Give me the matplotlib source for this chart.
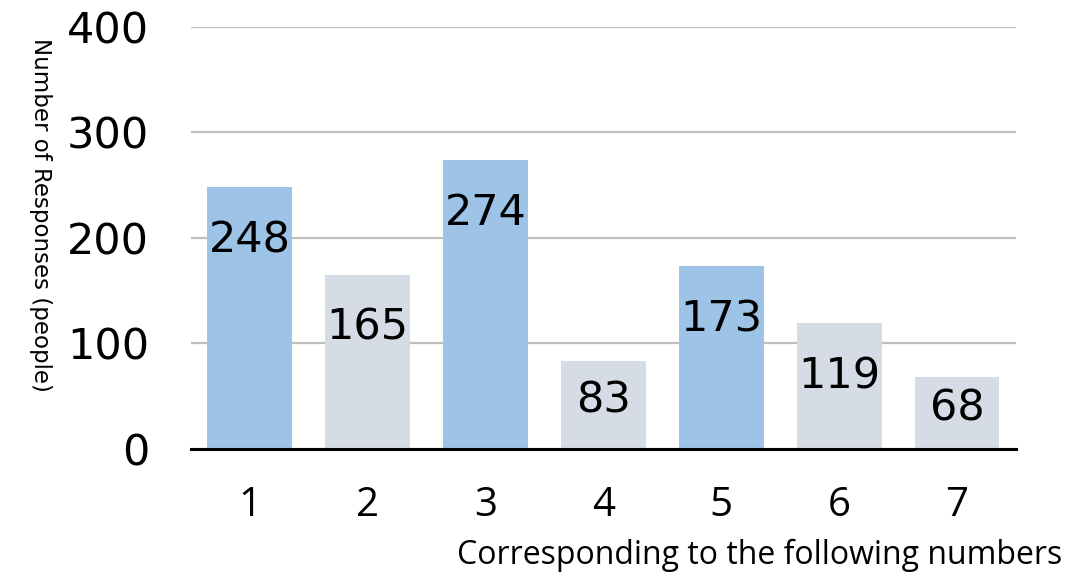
import matplotlib.pyplot as plt
import numpy as np

# 回答数データ
categories = ["1", "2", "3", "4", "5", "6", "7"]
responses = [248, 165, 274, 83, 173, 119, 68]
highlight = [True, False, True, False, True, False, False]

BLUE = "#9DC3E6"
GRAY = "#D6DCE5"

fig = plt.figure(figsize=(10.92, 5.73), dpi=100)
ax = fig.add_axes([0.1749, 0.2164, 0.7555, 0.7365])

x = np.arange(len(categories))
colors = [BLUE if h else GRAY for h in highlight]
ax.bar(x, responses, width=0.72, color=colors, zorder=2)

for xi, v in zip(x, responses):
    y = max(v - 50, v / 2 + 4)
    ax.text(xi, y, str(v), ha="center", va="center", fontsize=31,
            family="DejaVu Sans", color="black", zorder=3)

ax.set_xlim(-0.5, len(categories) - 0.5)
ax.set_ylim(0, 400)
ax.set_yticks([0, 100, 200, 300, 400])
ax.yaxis.grid(True, color="#BFBFBF", linewidth=1.6, zorder=0)
ax.set_axisbelow(True)

for s in ["top", "right", "left"]:
    ax.spines[s].set_visible(False)
ax.spines["bottom"].set_linewidth(2.2)
ax.spines["bottom"].set_color("black")
ax.spines["bottom"].set_zorder(4)

ax.set_xticks(x)
ax.set_xticklabels(categories, family="Open Sans", fontsize=29)
ax.tick_params(axis="x", length=0, pad=26)
ax.tick_params(axis="y", length=0, pad=30, labelsize=31)
for lbl in ax.get_yticklabels():
    lbl.set_family("DejaVu Sans")

fig.text(0.9725, 0.031, "Corresponding to the following numbers", ha="right",
         va="center", family="Open Sans", fontsize=23)
fig.text(0.037, 0.625, "Number of Responses (people)", rotation=-90,
         ha="center", va="center", family="DejaVu Sans", fontsize=16.5)

fig.savefig("out.png", dpi=100)
